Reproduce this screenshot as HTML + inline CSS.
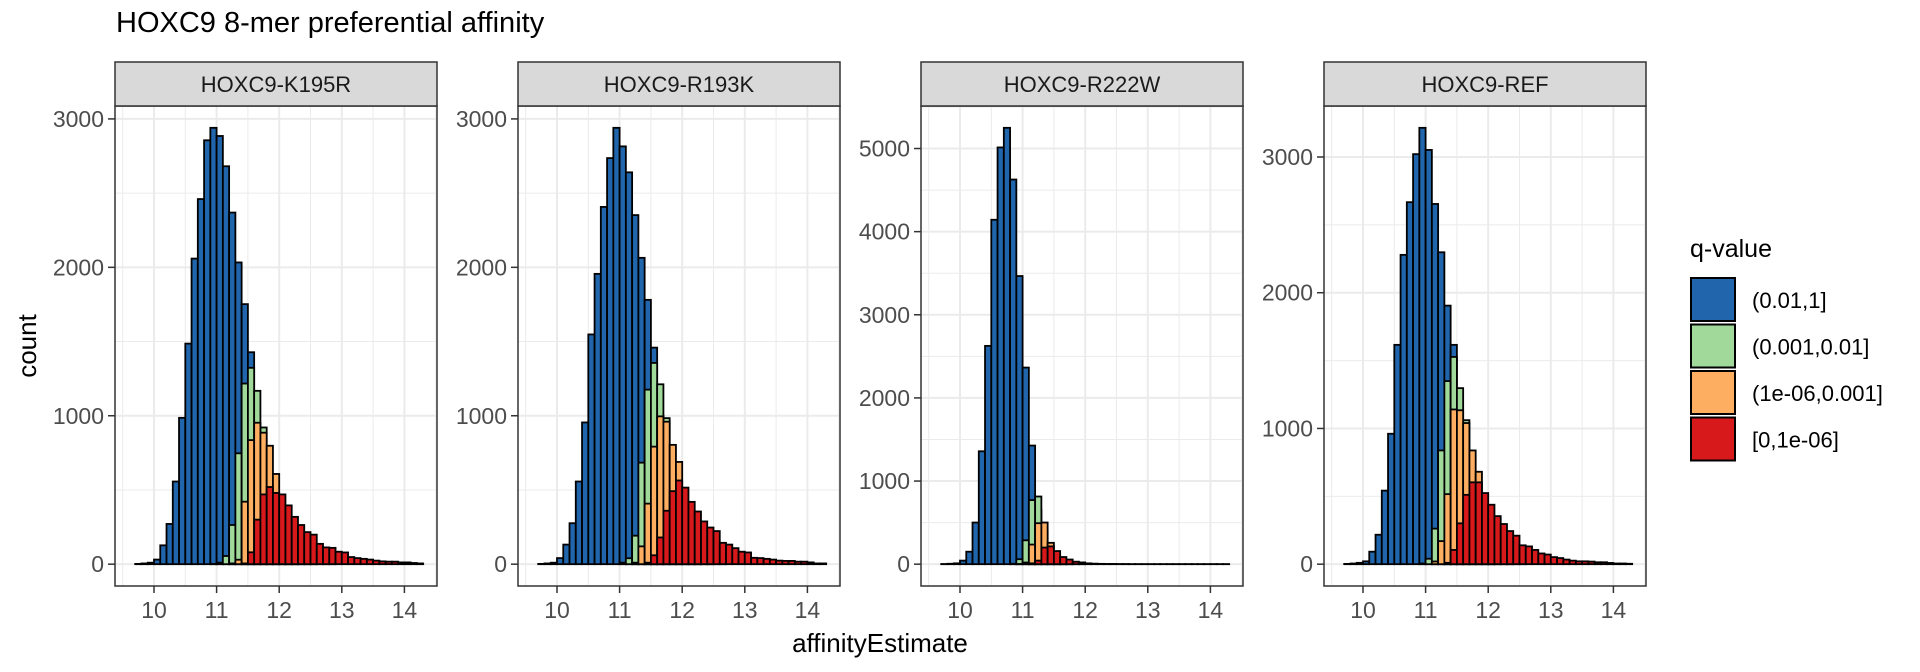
<!DOCTYPE html>
<html><head><meta charset="utf-8"><style>
html,body{margin:0;padding:0;background:#fff;}
svg{display:block;font-family:"Liberation Sans",Arial,sans-serif;}
</style></head><body>
<svg id="chart" width="1920" height="672" viewBox="0 0 1920 672" xmlns="http://www.w3.org/2000/svg">
<text x="116" y="32" font-size="29" fill="#000">HOXC9 8-mer preferential affinity</text>
<text transform="translate(36,346) rotate(-90)" text-anchor="middle" font-size="26" fill="#000">count</text>
<text x="880" y="652" text-anchor="middle" font-size="26" fill="#000">affinityEstimate</text>
<g id="panels"></g>
<g id="legend">
<text x="1690" y="257" font-size="25" fill="#000">q-value</text>
</g>
</svg>
<script>
// bins: left edges 9.6 + 0.1*i, i = 0..46
const binStart = 9.6;
const binWidth = 0.1;
const panelNames = ["HOXC9-K195R","HOXC9-R193K","HOXC9-R222W","HOXC9-REF"];
const seriesNames = ["(0.01,1]","(0.001,0.01]","(1e-06,0.001]","[0,1e-06]"];
const seriesColors = ["#2166ac","#a1d99b","#fdae61","#d7191c"];
const xTicks = [10,11,12,13,14];

// K195R
const k195rBlue   = [0,2,5,10,31,127,271,557,986,1486,2059,2460,2856,2940,2885,2681,2369,2033,1752,1428,900,400,150,50,10,3,1,0,0,0,0,0,0,0,0,0,0,0,0,0,0,0,0,0,0,0,0];
const k195rGreen  = [0,0,0,0,0,0,0,0,0,0,0,0,0,2,10,55,264,747,1217,1323,1168,921,500,250,120,60,30,12,5,2,0,0,0,0,0,0,0,0,0,0,0,0,0,0,0,0,0];
const k195rOrange = [0,0,0,0,0,0,0,0,0,0,0,0,0,0,0,0,5,30,421,836,953,886,798,608,300,200,120,70,40,20,10,5,2,0,0,0,0,0,0,0,0,0,0,0,0,0,0];
const k195rRed    = [0,0,0,0,0,0,0,0,0,0,0,0,0,0,0,0,0,0,5,80,300,470,520,480,470,396,319,264,216,199,137,113,110,84,79,48,41,36,31,24,19,17,17,12,12,8,5];
// R193K
const r193kBlue   = [0,2,5,10,41,132,276,557,955,1548,1956,2407,2736,2940,2815,2640,2352,2064,1781,1459,1000,450,150,50,10,3,1,0,0,0,0,0,0,0,0,0,0,0,0,0,0,0,0,0,0,0,0];
const r193kGreen  = [0,0,0,0,0,0,0,0,0,0,0,0,0,0,10,40,192,684,1176,1356,1212,984,600,300,150,60,25,10,4,0,0,0,0,0,0,0,0,0,0,0,0,0,0,0,0,0,0];
const r193kOrange = [0,0,0,0,0,0,0,0,0,0,0,0,0,0,0,0,10,120,408,792,996,960,804,689,350,200,100,50,20,8,3,0,0,0,0,0,0,0,0,0,0,0,0,0,0,0,0];
const r193kRed    = [0,0,0,0,0,0,0,0,0,0,0,0,0,0,0,0,0,0,10,60,180,360,492,564,516,420,355,288,247,223,144,132,108,84,79,43,41,36,31,24,22,22,17,17,12,5,5];
// R222W
const r222wBlue   = [0,2,5,10,43,150,501,1358,2626,4143,5013,5249,4627,3466,2365,1427,650,200,50,10,2,0,0,0,0,0,0,0,0,0,0,0,0,0,0,0,0,0,0,0,0,0,0,0,0,0,0];
const r222wGreen  = [0,0,0,0,0,0,0,0,0,0,0,0,5,60,287,771,814,400,120,30,8,2,0,0,0,0,0,0,0,0,0,0,0,0,0,0,0,0,0,0,0,0,0,0,0,0,0];
const r222wOrange = [0,0,0,0,0,0,0,0,0,0,0,0,0,2,20,236,493,501,257,107,56,20,8,3,0,0,0,0,0,0,0,0,0,0,0,0,0,0,0,0,0,0,0,0,0,0,0];
const r222wRed    = [0,0,0,0,0,0,0,0,0,0,0,0,0,0,0,10,43,200,214,158,86,56,30,21,10,6,4,3,3,2,2,1,1,1,1,1,1,1,1,1,1,1,1,1,1,1,1];
// REF
const refBlue     = [0,2,5,10,21,92,217,542,961,1616,2279,2667,3021,3215,3052,2654,2298,1905,1616,1000,500,200,60,15,3,0,0,0,0,0,0,0,0,0,0,0,0,0,0,0,0,0,0,0,0,0,0];
const refGreen    = [0,0,0,0,0,0,0,0,0,0,0,0,0,5,40,262,838,1349,1527,1297,1061,600,300,150,60,25,10,4,0,0,0,0,0,0,0,0,0,0,0,0,0,0,0,0,0,0,0];
const refOrange   = [0,0,0,0,0,0,0,0,0,0,0,0,0,0,0,20,170,516,1140,1134,1040,838,681,400,250,120,60,30,12,5,0,0,0,0,0,0,0,0,0,0,0,0,0,0,0,0,0];
const refRed      = [0,0,0,0,0,0,0,0,0,0,0,0,0,0,0,0,0,10,105,301,511,603,603,524,438,354,296,244,210,139,131,105,79,71,52,45,34,26,21,21,19,14,14,9,5,5,3];

const panelSeries = [
  [k195rBlue,k195rGreen,k195rOrange,k195rRed],
  [r193kBlue,r193kGreen,r193kOrange,r193kRed],
  [r222wBlue,r222wGreen,r222wOrange,r222wRed],
  [refBlue,refGreen,refOrange,refRed]
];

const NS = "http://www.w3.org/2000/svg";
function mk(tag, attrs, parent){
  const e = document.createElementNS(NS, tag);
  for (const k in attrs) e.setAttribute(k, attrs[k]);
  parent.appendChild(e);
  return e;
}
const panelsG = document.getElementById("panels");
const PLEFT = [115,518,921,1324], PW = 322, PTOP = 106, PBOT = 586, STOP = 62;
const nBins = k195rBlue.length;

panelSeries.forEach((series, p) => {
  const L = PLEFT[p];
  const g = mk("g", {}, panelsG);
  
  
  let M = 0;
  series.forEach(s => s.forEach(v => { if (v > M) M = v; }));
  const xs = v => L + 39 + (v - 10) * 62.6;
  const ys = v => PBOT - (v + 0.05 * M) / (1.1 * M) * (PBOT - PTOP);
  // background
  const bg = mk("rect", {x:L, y:PTOP, width:PW, height:PBOT-PTOP, fill:"#fff"}, g);
  
  
  // minor grid x
  for (let v = 9.5; v <= 14.5; v += 1) {
    const l = mk("line", {x1:xs(v), x2:xs(v), y1:PTOP, y2:PBOT, stroke:"#ebebeb", "stroke-width":1}, g);
    
    
  }
  // y ticks
  const yTicks = [];
  for (let t = 0; t <= 1.05 * M; t += 1000) yTicks.push(t);
  for (let t = 500; t <= 1.05 * M; t += 1000) {
    const l = mk("line", {x1:L, x2:L+PW, y1:ys(t), y2:ys(t), stroke:"#ebebeb", "stroke-width":1}, g);
    
    
  }
  xTicks.forEach(t => {
    const l = mk("line", {x1:xs(t), x2:xs(t), y1:PTOP, y2:PBOT, stroke:"#ebebeb", "stroke-width":2}, g);
    
    
  });
  yTicks.forEach(t => {
    const l = mk("line", {x1:L, x2:L+PW, y1:ys(t), y2:ys(t), stroke:"#ebebeb", "stroke-width":2}, g);
    
    
  });
  // bars
  series.forEach((s, si) => {
    s.forEach((v, i) => {
      const x0 = xs(binStart + binWidth * i), x1 = xs(binStart + binWidth * (i + 1));
      const r = mk("rect", {x:x0, y:ys(v), width:x1-x0, height:Math.max(0, ys(0)-ys(v)), fill:seriesColors[si], stroke:"#000", "stroke-width":1.8}, g);
      
      
    });
  });
  // border
  const bd = mk("rect", {x:L, y:PTOP, width:PW, height:PBOT-PTOP, fill:"none", stroke:"#333", "stroke-width":1.5}, g);
  
  
  // strip
  const st = mk("rect", {x:L, y:STOP, width:PW, height:PTOP-STOP, fill:"#d9d9d9", stroke:"#333", "stroke-width":1.5}, g);
  
  
  const stt = mk("text", {x:L+PW/2, y:92, "text-anchor":"middle", "font-size":22, fill:"#1a1a1a"}, g);
  stt.textContent = panelNames[p];
  
  
  // y axis ticks/labels
  yTicks.forEach(t => {
    const tk = mk("line", {x1:L-7, x2:L, y1:ys(t), y2:ys(t), stroke:"#333", "stroke-width":1.5}, g);
    
    
    const tl = mk("text", {x:L-11, y:ys(t)+8, "text-anchor":"end", "font-size":23, fill:"#4d4d4d"}, g);
    tl.textContent = t;
    
    
  });
  xTicks.forEach(t => {
    const tk = mk("line", {x1:xs(t), x2:xs(t), y1:PBOT, y2:PBOT+7, stroke:"#333", "stroke-width":1.5}, g);
    
    
    const tl = mk("text", {x:xs(t), y:618, "text-anchor":"middle", "font-size":23, fill:"#4d4d4d"}, g);
    tl.textContent = t;
    
    
  });
});

// legend
const lg = document.getElementById("legend");
seriesNames.forEach((n, i) => {
  const y = 277 + i * 46.5;
  const r = mk("rect", {x:1691, y:y+1, width:44, height:43, fill:seriesColors[i], stroke:"#000", "stroke-width":2}, lg);
  
  
  const t = mk("text", {x:1752, y:y+31, "font-size":22, fill:"#000"}, lg);
  t.textContent = n;
  
  
});
</script>
</body></html>
